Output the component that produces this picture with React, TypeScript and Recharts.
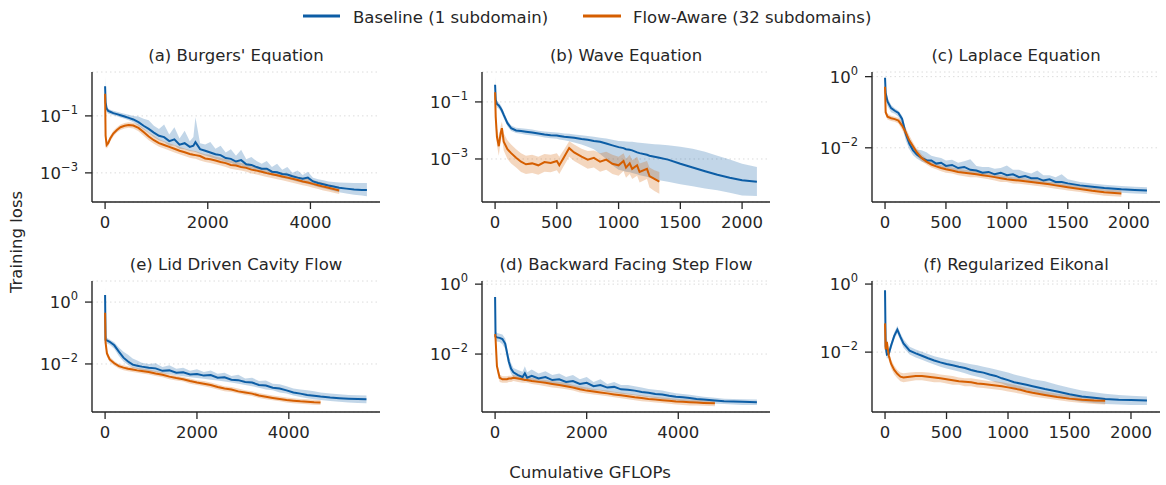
import { ComposedChart, Area, Line, XAxis, YAxis, CartesianGrid } from "recharts";

const BLUE = "#0C5DA5";
const ORANGE = "#D55E00";
const INK = "#262626";
const FONT = "'DejaVu Sans', sans-serif";

// (a) Burgers' Equation
const burgersX = [0, 10, 30, 60, 100, 160, 230, 300, 380, 460, 550, 650, 750, 850, 950, 1050, 1150, 1250, 1350, 1450, 1550, 1650, 1720, 1760, 1850, 1950, 2050, 2150, 2250, 2350, 2450, 2550, 2650, 2750, 2850, 2950, 3050, 3150, 3250, 3350, 3450, 3550, 3650, 3750, 3850, 3950, 4050, 4150, 4250, 4350, 4450, 4560, 4700, 4850, 5000, 5100];
const burgersBase = [1.1, 0.3, 0.18, 0.15, 0.14, 0.125, 0.115, 0.105, 0.095, 0.085, 0.075, 0.06, 0.045, 0.035, 0.026, 0.02, 0.018, 0.013, 0.015, 0.0098, 0.011, 0.0082, 0.009, 0.012, 0.0068, 0.006, 0.0052, 0.0045, 0.0042, 0.0033, 0.0031, 0.0025, 0.0028, 0.002, 0.0019, 0.0016, 0.0014, 0.0014, 0.0011, 0.00105, 0.00092, 0.00088, 0.00076, 0.00068, 0.00062, 0.00068, 0.0005, 0.00044, 0.0004, 0.00036, 0.00033, 0.0003, 0.00028, 0.00026, 0.00025, 0.00025];
const burgersBaseHi = [2.3, 0.5, 0.22, 0.18, 0.165, 0.15, 0.14, 0.13, 0.12, 0.11, 0.1, 0.095, 0.08, 0.07, 0.045, 0.035, 0.05, 0.022, 0.04, 0.016, 0.03, 0.013, 0.018, 0.09, 0.011, 0.01, 0.012, 0.007, 0.009, 0.0052, 0.0068, 0.004, 0.0065, 0.003, 0.0036, 0.0026, 0.0021, 0.0026, 0.0016, 0.0021, 0.0013, 0.0016, 0.001, 0.0012, 0.00085, 0.0011, 0.00068, 0.0006, 0.00055, 0.0005, 0.00048, 0.00046, 0.00045, 0.00044, 0.00044, 0.00044];
const burgersBaseLo = [0.6, 0.2, 0.14, 0.12, 0.115, 0.105, 0.097, 0.088, 0.08, 0.07, 0.06, 0.045, 0.033, 0.025, 0.018, 0.014, 0.012, 0.009, 0.0092, 0.007, 0.0068, 0.0058, 0.0056, 0.0054, 0.0047, 0.0041, 0.0036, 0.0031, 0.0028, 0.0024, 0.0022, 0.0019, 0.0018, 0.0015, 0.0013, 0.0012, 0.001, 0.00092, 0.00082, 0.00074, 0.00066, 0.00061, 0.00055, 0.00049, 0.00045, 0.00041, 0.00036, 0.00032, 0.00029, 0.00026, 0.00023, 0.00021, 0.00019, 0.00017, 0.00016, 0.00015];
const burgersFlow = [0.6, 0.02, 0.0095, 0.011, 0.016, 0.024, 0.032, 0.04, 0.045, 0.048, 0.046, 0.038, 0.027, 0.019, 0.014, 0.011, 0.0095, 0.0082, 0.007, 0.006, 0.0053, 0.0046, 0.0043, 0.0042, 0.0039, 0.0032, 0.003, 0.0027, 0.0024, 0.0022, 0.0019, 0.0018, 0.0016, 0.0015, 0.0013, 0.0012, 0.0011, 0.00098, 0.0009, 0.00082, 0.00075, 0.00068, 0.00062, 0.00056, 0.0005, 0.00046, 0.00041, 0.00037, 0.00033, 0.0003, 0.00027, 0.00024];
const burgersFlowHi = [0.9, 0.03, 0.013, 0.014, 0.02, 0.03, 0.04, 0.05, 0.056, 0.06, 0.058, 0.05, 0.036, 0.026, 0.02, 0.015, 0.013, 0.011, 0.0095, 0.0082, 0.0072, 0.0063, 0.006, 0.0058, 0.0051, 0.0045, 0.0043, 0.0037, 0.0034, 0.003, 0.0027, 0.0025, 0.0022, 0.0021, 0.0018, 0.0017, 0.0015, 0.0014, 0.0012, 0.0011, 0.001, 0.00092, 0.00085, 0.00076, 0.00068, 0.00062, 0.00056, 0.0005, 0.00045, 0.0004, 0.00036, 0.00032];
const burgersFlowLo = [0.4, 0.014, 0.007, 0.0085, 0.0125, 0.019, 0.026, 0.032, 0.036, 0.038, 0.036, 0.029, 0.02, 0.014, 0.0105, 0.0083, 0.0071, 0.0061, 0.0052, 0.0045, 0.0039, 0.0034, 0.0032, 0.0031, 0.0027, 0.0024, 0.0022, 0.002, 0.0018, 0.0016, 0.0014, 0.0013, 0.0012, 0.0011, 0.00095, 0.00088, 0.0008, 0.00072, 0.00066, 0.0006, 0.00055, 0.0005, 0.00045, 0.00041, 0.00037, 0.00034, 0.0003, 0.00027, 0.00024, 0.00022, 0.0002, 0.00018];

// (b) Wave Equation
const waveX = [0, 5, 15, 30, 45, 55, 70, 100, 130, 170, 210, 250, 300, 350, 400, 450, 500, 520, 560, 600, 640, 700, 750, 800, 850, 900, 950, 1000, 1040, 1060, 1090, 1110, 1150, 1170, 1230, 1250, 1290, 1330, 1400, 1500, 1600, 1700, 1800, 1900, 2000, 2120];
const waveBase = [0.4, 0.12, 0.085, 0.075, 0.06, 0.05, 0.035, 0.018, 0.012, 0.01, 0.0095, 0.009, 0.0085, 0.0078, 0.0072, 0.0068, 0.0066, 0.0064, 0.006, 0.0058, 0.0055, 0.005, 0.0047, 0.0043, 0.004, 0.0035, 0.003, 0.0026, 0.0024, 0.0022, 0.0021, 0.002, 0.0017, 0.0016, 0.0014, 0.0013, 0.0012, 0.0011, 0.00095, 0.00068, 0.0005, 0.00037, 0.00028, 0.00022, 0.00018, 0.00016];
const waveBaseHi = [0.75, 0.16, 0.11, 0.095, 0.078, 0.065, 0.045, 0.023, 0.015, 0.0125, 0.012, 0.0115, 0.0108, 0.0098, 0.0092, 0.0088, 0.0085, 0.0083, 0.0078, 0.0076, 0.0072, 0.0068, 0.0064, 0.006, 0.0056, 0.0052, 0.0047, 0.0043, 0.0042, 0.0041, 0.004, 0.004, 0.0038, 0.0037, 0.0035, 0.0034, 0.0033, 0.0032, 0.003, 0.0027, 0.0023, 0.0018, 0.0013, 0.00095, 0.00068, 0.00052];
const waveBaseLo = [0.2, 0.09, 0.065, 0.058, 0.046, 0.038, 0.027, 0.014, 0.0095, 0.0081, 0.0076, 0.0071, 0.0067, 0.0062, 0.0057, 0.0053, 0.0051, 0.0048, 0.0045, 0.0042, 0.0038, 0.0032, 0.0027, 0.0022, 0.0015, 0.001, 0.0006, 0.00042, 0.00038, 0.00036, 0.00034, 0.00032, 0.00029, 0.00027, 0.00024, 0.00022, 0.0002, 0.00018, 0.00016, 0.00013, 0.00011, 0.000092, 0.00008, 0.000065, 0.000052, 0.00005];
const waveFlow = [0.22, 0.03, 0.006, 0.0028, 0.008, 0.012, 0.004, 0.0022, 0.0016, 0.0011, 0.0008, 0.00065, 0.0007, 0.0006, 0.00078, 0.00072, 0.00085, 0.0006, 0.0012, 0.0024, 0.0017, 0.0012, 0.00095, 0.0011, 0.0008, 0.00095, 0.00068, 0.0006, 0.00085, 0.0005, 0.0007, 0.00045, 0.0006, 0.00035, 0.00045, 0.00025, 0.0002, 0.00016];
const waveFlowHi = [0.4, 0.06, 0.012, 0.0055, 0.014, 0.02, 0.008, 0.0045, 0.0032, 0.0022, 0.0016, 0.0013, 0.0014, 0.0012, 0.0015, 0.0014, 0.0016, 0.0012, 0.0022, 0.0042, 0.0032, 0.0023, 0.0019, 0.002, 0.0016, 0.0018, 0.0014, 0.0012, 0.0016, 0.001, 0.0014, 0.0009, 0.0012, 0.0007, 0.00085, 0.0005, 0.0004, 0.00035];
const waveFlowLo = [0.1, 0.012, 0.003, 0.0013, 0.004, 0.006, 0.002, 0.001, 0.0007, 0.0005, 0.00035, 0.0003, 0.00032, 0.00028, 0.00036, 0.00034, 0.0004, 0.0003, 0.0006, 0.0012, 0.00085, 0.0006, 0.00045, 0.0005, 0.00036, 0.00042, 0.0003, 0.00026, 0.00038, 0.00022, 0.0003, 0.0002, 0.00026, 0.00015, 0.0002, 0.0001, 0.000075, 0.00006];

// (c) Laplace Equation
const laplaceX = [0, 5, 20, 50, 80, 110, 140, 170, 200, 230, 260, 300, 340, 380, 420, 460, 500, 550, 600, 650, 700, 750, 800, 850, 900, 950, 1000, 1050, 1100, 1150, 1200, 1250, 1300, 1350, 1400, 1450, 1500, 1600, 1700, 1800, 1940, 2050, 2150];
const laplaceBase = [0.93, 0.35, 0.2, 0.13, 0.11, 0.095, 0.065, 0.025, 0.013, 0.0085, 0.0065, 0.0052, 0.0045, 0.0044, 0.0036, 0.0038, 0.0031, 0.0033, 0.0027, 0.0029, 0.0024, 0.0023, 0.002, 0.0021, 0.0018, 0.002, 0.0017, 0.0018, 0.0015, 0.0016, 0.0014, 0.0014, 0.0012, 0.0013, 0.0011, 0.0011, 0.001, 0.00088, 0.0008, 0.00074, 0.00068, 0.00065, 0.00063];
const laplaceBaseHi = [1.2, 0.5, 0.26, 0.16, 0.13, 0.11, 0.08, 0.035, 0.017, 0.011, 0.009, 0.0085, 0.0075, 0.006, 0.0055, 0.0052, 0.0044, 0.0046, 0.0038, 0.0042, 0.0048, 0.0031, 0.0029, 0.0029, 0.0026, 0.0027, 0.0032, 0.0024, 0.0024, 0.0021, 0.0019, 0.0023, 0.0017, 0.0017, 0.0015, 0.0018, 0.0013, 0.0011, 0.001, 0.00092, 0.00084, 0.0008, 0.00078];
const laplaceBaseLo = [0.7, 0.25, 0.15, 0.1, 0.09, 0.075, 0.045, 0.016, 0.009, 0.0062, 0.005, 0.0041, 0.0037, 0.0033, 0.003, 0.0028, 0.0026, 0.0024, 0.0022, 0.002, 0.0019, 0.0018, 0.0017, 0.0016, 0.0015, 0.0014, 0.0014, 0.0013, 0.0012, 0.0012, 0.0011, 0.001, 0.001, 0.00095, 0.0009, 0.00085, 0.0008, 0.00072, 0.00066, 0.0006, 0.00055, 0.00052, 0.0005];
const laplaceFlow = [0.52, 0.1, 0.075, 0.068, 0.064, 0.058, 0.042, 0.027, 0.016, 0.011, 0.0075, 0.0052, 0.0041, 0.0034, 0.003, 0.0027, 0.0025, 0.0023, 0.0021, 0.002, 0.0019, 0.0018, 0.0017, 0.0016, 0.0015, 0.0014, 0.0013, 0.00125, 0.0012, 0.00115, 0.0011, 0.00105, 0.001, 0.00094, 0.00088, 0.00083, 0.00078, 0.0007, 0.00062, 0.00056, 0.00052];
const laplaceFlowHi = [0.6, 0.12, 0.09, 0.08, 0.075, 0.07, 0.055, 0.036, 0.022, 0.014, 0.0095, 0.0065, 0.005, 0.0042, 0.0037, 0.0033, 0.003, 0.0028, 0.0026, 0.0024, 0.0023, 0.0022, 0.0021, 0.002, 0.0018, 0.0017, 0.0016, 0.0015, 0.0015, 0.0014, 0.0013, 0.0013, 0.0012, 0.0011, 0.0011, 0.001, 0.00095, 0.00085, 0.00076, 0.00068, 0.00063];
const laplaceFlowLo = [0.45, 0.085, 0.062, 0.057, 0.054, 0.048, 0.032, 0.02, 0.012, 0.0085, 0.006, 0.0042, 0.0034, 0.0028, 0.0025, 0.0022, 0.002, 0.0019, 0.0017, 0.0016, 0.0015, 0.0015, 0.0014, 0.0013, 0.0012, 0.0011, 0.0011, 0.001, 0.00098, 0.00093, 0.00089, 0.00085, 0.00081, 0.00076, 0.00071, 0.00067, 0.00063, 0.00057, 0.0005, 0.00045, 0.00042];

// (e) Lid Driven Cavity Flow
const cavityX = [0, 10, 40, 100, 200, 300, 400, 500, 600, 700, 800, 950, 1100, 1250, 1400, 1550, 1700, 1850, 2000, 2150, 2300, 2450, 2600, 2750, 2900, 3050, 3200, 3350, 3500, 3650, 3800, 3950, 4100, 4250, 4400, 4550, 4690, 4900, 5100, 5300, 5500, 5690];
const cavityBase = [1.7, 0.06, 0.058, 0.052, 0.04, 0.025, 0.016, 0.012, 0.0095, 0.0088, 0.0082, 0.0075, 0.0072, 0.006, 0.0062, 0.0052, 0.0054, 0.0046, 0.0047, 0.0042, 0.0044, 0.0036, 0.0037, 0.0031, 0.003, 0.0026, 0.0025, 0.0021, 0.002, 0.0017, 0.0016, 0.0014, 0.0012, 0.0011, 0.001, 0.00094, 0.00088, 0.00082, 0.00078, 0.00075, 0.00073, 0.00072];
const cavityBaseHi = [3.2, 0.09, 0.07, 0.062, 0.05, 0.034, 0.025, 0.02, 0.015, 0.013, 0.011, 0.01, 0.0105, 0.008, 0.009, 0.007, 0.0075, 0.006, 0.0068, 0.0055, 0.0062, 0.0048, 0.0052, 0.0041, 0.0045, 0.0034, 0.0036, 0.0028, 0.0029, 0.0023, 0.0022, 0.0019, 0.0016, 0.0015, 0.0014, 0.0013, 0.0012, 0.0011, 0.00105, 0.001, 0.00098, 0.00096];
const cavityBaseLo = [0.6, 0.045, 0.046, 0.042, 0.031, 0.018, 0.012, 0.0092, 0.0075, 0.0069, 0.0064, 0.0059, 0.0055, 0.005, 0.0047, 0.0043, 0.004, 0.0037, 0.0035, 0.0033, 0.0031, 0.0029, 0.0027, 0.0025, 0.0023, 0.0021, 0.0019, 0.0017, 0.0015, 0.0014, 0.0012, 0.0011, 0.00095, 0.00085, 0.00078, 0.00072, 0.00068, 0.00064, 0.0006, 0.00057, 0.00055, 0.00054];
const cavityFlow = [0.45, 0.05, 0.022, 0.014, 0.0105, 0.0085, 0.0076, 0.007, 0.0066, 0.0062, 0.0059, 0.0055, 0.0049, 0.0045, 0.0039, 0.0035, 0.0032, 0.0028, 0.0025, 0.0023, 0.0021, 0.0018, 0.0016, 0.0015, 0.0013, 0.0012, 0.0011, 0.00095, 0.00087, 0.0008, 0.00074, 0.00068, 0.00065, 0.00062, 0.0006, 0.00058, 0.00057];
const cavityFlowHi = [0.7, 0.07, 0.028, 0.017, 0.0125, 0.01, 0.0091, 0.0084, 0.0079, 0.0074, 0.0071, 0.0066, 0.0059, 0.0054, 0.0047, 0.0042, 0.0038, 0.0034, 0.003, 0.0028, 0.0025, 0.0022, 0.0019, 0.0018, 0.0016, 0.0014, 0.0013, 0.00115, 0.00105, 0.00096, 0.00089, 0.00082, 0.00078, 0.00074, 0.00072, 0.0007, 0.00068];
const cavityFlowLo = [0.3, 0.035, 0.017, 0.0115, 0.0088, 0.0071, 0.0063, 0.0058, 0.0055, 0.0052, 0.0049, 0.0046, 0.0041, 0.0037, 0.0032, 0.0029, 0.0027, 0.0023, 0.0021, 0.0019, 0.0017, 0.0015, 0.0013, 0.00125, 0.0011, 0.001, 0.00092, 0.00079, 0.00072, 0.00067, 0.00062, 0.00057, 0.00054, 0.00052, 0.0005, 0.00048, 0.00047];

// (d) Backward Facing Step Flow
const stepX = [0, 10, 40, 100, 160, 220, 260, 300, 350, 400, 500, 600, 650, 700, 800, 950, 1100, 1250, 1400, 1550, 1700, 1850, 2000, 2150, 2300, 2450, 2600, 2750, 2900, 3050, 3200, 3350, 3500, 3650, 3800, 3950, 4100, 4250, 4400, 4550, 4800, 5000, 5200, 5400, 5717];
const stepBase = [0.43, 0.032, 0.03, 0.029, 0.027, 0.02, 0.011, 0.006, 0.0038, 0.003, 0.0025, 0.0022, 0.0028, 0.0021, 0.0024, 0.002, 0.0022, 0.0018, 0.0019, 0.0016, 0.0017, 0.0014, 0.0015, 0.0012, 0.0013, 0.0011, 0.00115, 0.00098, 0.00095, 0.0009, 0.00082, 0.00078, 0.00072, 0.0007, 0.00064, 0.0006, 0.00058, 0.00055, 0.00052, 0.0005, 0.00047, 0.00045, 0.00044, 0.00043, 0.00042];
const stepBaseHi = [1.0, 0.045, 0.04, 0.038, 0.036, 0.028, 0.016, 0.0085, 0.0055, 0.004, 0.0035, 0.0031, 0.0045, 0.003, 0.0036, 0.0028, 0.0032, 0.0025, 0.0028, 0.0022, 0.0025, 0.0019, 0.0022, 0.0016, 0.0019, 0.0014, 0.0016, 0.0013, 0.0013, 0.0012, 0.0011, 0.001, 0.00095, 0.0009, 0.00082, 0.00076, 0.00072, 0.00068, 0.00064, 0.0006, 0.00056, 0.00053, 0.00052, 0.00051, 0.0005];
const stepBaseLo = [0.15, 0.024, 0.023, 0.022, 0.019, 0.014, 0.0075, 0.0042, 0.0027, 0.0022, 0.0019, 0.0017, 0.0018, 0.0016, 0.0017, 0.0015, 0.0015, 0.0013, 0.0013, 0.0012, 0.0012, 0.001, 0.001, 0.0009, 0.0009, 0.00082, 0.0008, 0.00073, 0.0007, 0.00066, 0.00062, 0.00058, 0.00055, 0.00052, 0.0005, 0.00047, 0.00045, 0.00043, 0.00041, 0.0004, 0.00038, 0.00037, 0.00036, 0.00035, 0.00035];
const stepFlow = [0.037, 0.028, 0.0045, 0.0021, 0.0019, 0.0019, 0.0019, 0.002, 0.002, 0.0021, 0.002, 0.0019, 0.0018, 0.0018, 0.0017, 0.0016, 0.0015, 0.0014, 0.0013, 0.0012, 0.0011, 0.00098, 0.0009, 0.00085, 0.0008, 0.00075, 0.0007, 0.00066, 0.00062, 0.00058, 0.00055, 0.00052, 0.0005, 0.00048, 0.00046, 0.00044, 0.00043, 0.00042, 0.00041, 0.0004, 0.00039];
const stepFlowHi = [0.045, 0.034, 0.006, 0.0026, 0.0023, 0.0023, 0.0023, 0.0024, 0.0024, 0.0025, 0.0024, 0.0023, 0.0022, 0.0022, 0.0021, 0.0019, 0.0018, 0.0017, 0.0016, 0.0015, 0.0013, 0.0012, 0.0011, 0.001, 0.00095, 0.0009, 0.00084, 0.00079, 0.00074, 0.0007, 0.00066, 0.00062, 0.0006, 0.00057, 0.00055, 0.00053, 0.00051, 0.0005, 0.00049, 0.00048, 0.00047];
const stepFlowLo = [0.03, 0.022, 0.0032, 0.0016, 0.0015, 0.0015, 0.0015, 0.0016, 0.0016, 0.0017, 0.0016, 0.0015, 0.0015, 0.0015, 0.0014, 0.0013, 0.0012, 0.0011, 0.00105, 0.00098, 0.0009, 0.0008, 0.00074, 0.0007, 0.00066, 0.00062, 0.00058, 0.00054, 0.00051, 0.00048, 0.00045, 0.00043, 0.00041, 0.0004, 0.00038, 0.00036, 0.00035, 0.00034, 0.00034, 0.00033, 0.00032];

// (f) Regularized Eikonal
const eikonalX = [0, 5, 15, 30, 50, 75, 100, 125, 150, 200, 250, 300, 350, 400, 450, 500, 550, 600, 650, 700, 750, 800, 850, 900, 950, 1000, 1050, 1100, 1150, 1200, 1300, 1400, 1500, 1600, 1700, 1790, 1900, 2000, 2130];
const eikonalBase = [0.66, 0.015, 0.0085, 0.009, 0.016, 0.03, 0.046, 0.028, 0.018, 0.011, 0.0092, 0.0078, 0.0066, 0.0057, 0.005, 0.0045, 0.0041, 0.0037, 0.0034, 0.003, 0.0027, 0.0025, 0.0022, 0.002, 0.0017, 0.0015, 0.0013, 0.0012, 0.0011, 0.001, 0.00082, 0.0007, 0.00058, 0.0005, 0.00046, 0.00042, 0.0004, 0.00039, 0.00038];
const eikonalBaseHi = [1.0, 0.02, 0.011, 0.012, 0.02, 0.038, 0.06, 0.036, 0.024, 0.0145, 0.012, 0.0102, 0.0088, 0.0076, 0.0068, 0.0062, 0.0057, 0.0052, 0.0048, 0.0044, 0.0041, 0.0037, 0.0034, 0.0031, 0.0028, 0.0025, 0.0022, 0.002, 0.0018, 0.0016, 0.0014, 0.0011, 0.0009, 0.00075, 0.00066, 0.0006, 0.00055, 0.00052, 0.0005];
const eikonalBaseLo = [0.4, 0.011, 0.0065, 0.0068, 0.012, 0.024, 0.036, 0.022, 0.0135, 0.0085, 0.007, 0.006, 0.005, 0.0043, 0.0037, 0.0033, 0.003, 0.0027, 0.0024, 0.0021, 0.0019, 0.0017, 0.0015, 0.0013, 0.0012, 0.001, 0.0009, 0.00082, 0.00075, 0.00068, 0.00057, 0.00047, 0.0004, 0.00035, 0.00032, 0.0003, 0.00029, 0.00028, 0.00028];
const eikonalFlow = [0.07, 0.012, 0.02, 0.008, 0.0045, 0.003, 0.0023, 0.0019, 0.0018, 0.0019, 0.002, 0.002, 0.0019, 0.0018, 0.0017, 0.0016, 0.0015, 0.0014, 0.00135, 0.0013, 0.0012, 0.00115, 0.0011, 0.00105, 0.001, 0.00092, 0.00085, 0.00078, 0.0007, 0.00064, 0.00055, 0.00048, 0.00043, 0.0004, 0.00038, 0.00037];
const eikonalFlowHi = [0.1, 0.016, 0.026, 0.011, 0.006, 0.004, 0.003, 0.0025, 0.0024, 0.0025, 0.0026, 0.0026, 0.0025, 0.0024, 0.0022, 0.0021, 0.002, 0.0018, 0.0017, 0.0017, 0.0016, 0.0015, 0.0014, 0.0014, 0.0013, 0.0012, 0.0011, 0.001, 0.0009, 0.00082, 0.0007, 0.0006, 0.00054, 0.0005, 0.00047, 0.00045];
const eikonalFlowLo = [0.045, 0.009, 0.014, 0.0058, 0.0033, 0.0022, 0.0017, 0.0014, 0.0013, 0.0014, 0.0015, 0.0015, 0.0014, 0.0013, 0.0013, 0.0012, 0.0011, 0.0011, 0.001, 0.001, 0.00092, 0.00088, 0.00084, 0.0008, 0.00076, 0.0007, 0.00065, 0.0006, 0.00055, 0.0005, 0.00044, 0.00039, 0.00035, 0.00032, 0.0003, 0.00029];

const longTicks = [0, 2000, 4000];
const shortTicks = [0, 500, 1000, 1500, 2000];
const oddDecades = [0.1, 0.001];
const evenDecades = [1, 0.01];

const PLOT_W = 288;

const panels = [
  { title: "(a) Burgers' Equation", x: burgersX, base: burgersBase, baseLo: burgersBaseLo, baseHi: burgersBaseHi, flow: burgersFlow, flowLo: burgersFlowLo, flowHi: burgersFlowHi, xDomain: [-255, 5355], yDomain: [9.5e-5, 3.47], xTicks: longTicks, yTicks: oddDecades, left: 92, top: 72, h: 130 },
  { title: "(b) Wave Equation", x: waveX, base: waveBase, baseLo: waveBaseLo, baseHi: waveBaseHi, flow: waveFlow, flowLo: waveFlowLo, flowHi: waveFlowHi, xDomain: [-106, 2226], yDomain: [3.1e-5, 1.12], xTicks: shortTicks, yTicks: oddDecades, left: 482, top: 72, h: 130 },
  { title: "(c) Laplace Equation", x: laplaceX, base: laplaceBase, baseLo: laplaceBaseLo, baseHi: laplaceBaseHi, flow: laplaceFlow, flowLo: laplaceFlowLo, flowHi: laplaceFlowHi, xDomain: [-107, 2257], yDomain: [3.0e-4, 1.35], xTicks: shortTicks, yTicks: evenDecades, left: 872, top: 72, h: 130 },
  { title: "(e) Lid Driven Cavity Flow", x: cavityX, base: cavityBase, baseLo: cavityBaseLo, baseHi: cavityBaseHi, flow: cavityFlow, flowLo: cavityFlowLo, flowHi: cavityFlowHi, xDomain: [-285, 5985], yDomain: [2.8e-4, 4.8], xTicks: longTicks, yTicks: evenDecades, left: 92, top: 281, h: 131 },
  { title: "(d) Backward Facing Step Flow", x: stepX, base: stepBase, baseLo: stepBaseLo, baseHi: stepBaseHi, flow: stepFlow, flowLo: stepFlowLo, flowHi: stepFlowHi, xDomain: [-286, 6003], yDomain: [2.2e-4, 1.23], xTicks: longTicks, yTicks: evenDecades, left: 482, top: 281, h: 131 },
  { title: "(f) Regularized Eikonal", x: eikonalX, base: eikonalBase, baseLo: eikonalBaseLo, baseHi: eikonalBaseHi, flow: eikonalFlow, flowLo: eikonalFlowLo, flowHi: eikonalFlowHi, xDomain: [-106, 2236], yDomain: [1.74e-4, 1.23], xTicks: shortTicks, yTicks: evenDecades, left: 872, top: 281, h: 131 },
];

function LogTick(props: any) {
  const { x, y, payload } = props;
  const exp = Math.round(Math.log10(payload.value));
  const sup = exp < 0 ? "\u2212" + -exp : String(exp);
  return (
    <text x={x} y={y + 6} textAnchor="end" fill={INK} fontFamily={FONT} fontSize={16.5}>
      <tspan>10</tspan>
      <tspan dy={-8} fontSize={11.5}>{sup}</tspan>
    </text>
  );
}

function NumTick(props: any) {
  const { x, y, payload } = props;
  return (
    <text x={x} y={y + 12} textAnchor="middle" fill={INK} fontFamily={FONT} fontSize={16.5}>
      {payload.value}
    </text>
  );
}

function LossPanel({ p }: { p: any }) {
  const rows = p.x.map((x: number, i: number) => ({
    x,
    base: p.base[i],
    baseBand: [p.baseLo[i], p.baseHi[i]],
    flow: i < p.flow.length ? p.flow[i] : null,
    flowBand: i < p.flow.length ? [p.flowLo[i], p.flowHi[i]] : null,
  }));
  return (
    <div style={{ position: "absolute", left: p.left - 60, top: p.top - 40 }}>
      <ComposedChart width={60 + PLOT_W + 10} height={40 + p.h + 40} data={rows} margin={{ top: 40, right: 10, bottom: 0, left: 0 }}>
        <CartesianGrid vertical={false} stroke="#dcdcdc" strokeDasharray="1.5 3" />
        <XAxis type="number" dataKey="x" domain={p.xDomain} ticks={p.xTicks} allowDataOverflow height={40}
          tickSize={7} tickMargin={7} tick={<NumTick />} axisLine={{ stroke: INK, strokeWidth: 1.4 }} tickLine={{ stroke: INK, strokeWidth: 1.3 }} />
        <YAxis type="number" scale="log" domain={p.yDomain} ticks={p.yTicks} allowDataOverflow width={60}
          tickSize={7} tickMargin={7} tick={<LogTick />} axisLine={{ stroke: INK, strokeWidth: 1.4 }} tickLine={{ stroke: INK, strokeWidth: 1.3 }} />
        <Area type="linear" dataKey="baseBand" stroke="none" fill={BLUE} fillOpacity={0.25} connectNulls isAnimationActive={false} />
        <Area type="linear" dataKey="flowBand" stroke="none" fill={ORANGE} fillOpacity={0.25} connectNulls isAnimationActive={false} />
        <Line type="linear" dataKey="base" stroke={BLUE} strokeWidth={2} dot={false} connectNulls isAnimationActive={false} />
        <Line type="linear" dataKey="flow" stroke={ORANGE} strokeWidth={2} dot={false} connectNulls isAnimationActive={false} />
      </ComposedChart>
    </div>
  );
}

export default function App() {
  return (
    <div style={{ position: "absolute", left: 0, top: 0, width: 1166, height: 485, background: "#fff", overflow: "hidden" }}>
      {panels.map((p) => (
        <LossPanel key={p.title} p={p} />
      ))}
      <svg width={1166} height={485} style={{ position: "absolute", left: 0, top: 0, pointerEvents: "none" }}>
        <g fontFamily={FONT} fontSize={16.5} fill={INK}>
          <line x1={303} x2={340} y1={16} y2={16} stroke={BLUE} strokeWidth={3} />
          <text x={353} y={22.5}>Baseline (1 subdomain)</text>
          <line x1={583} x2={621} y1={16} y2={16} stroke={ORANGE} strokeWidth={3} />
          <text x={633} y={22.5}>Flow-Aware (32 subdomains)</text>
          {panels.map((p) => (
            <text key={p.title} x={p.left + PLOT_W / 2} y={p.top - 11} textAnchor="middle">{p.title}</text>
          ))}
          <text transform="translate(22,242) rotate(-90)" textAnchor="middle">Training loss</text>
          <text x={590} y={478} textAnchor="middle">Cumulative GFLOPs</text>
        </g>
      </svg>
    </div>
  );
}
